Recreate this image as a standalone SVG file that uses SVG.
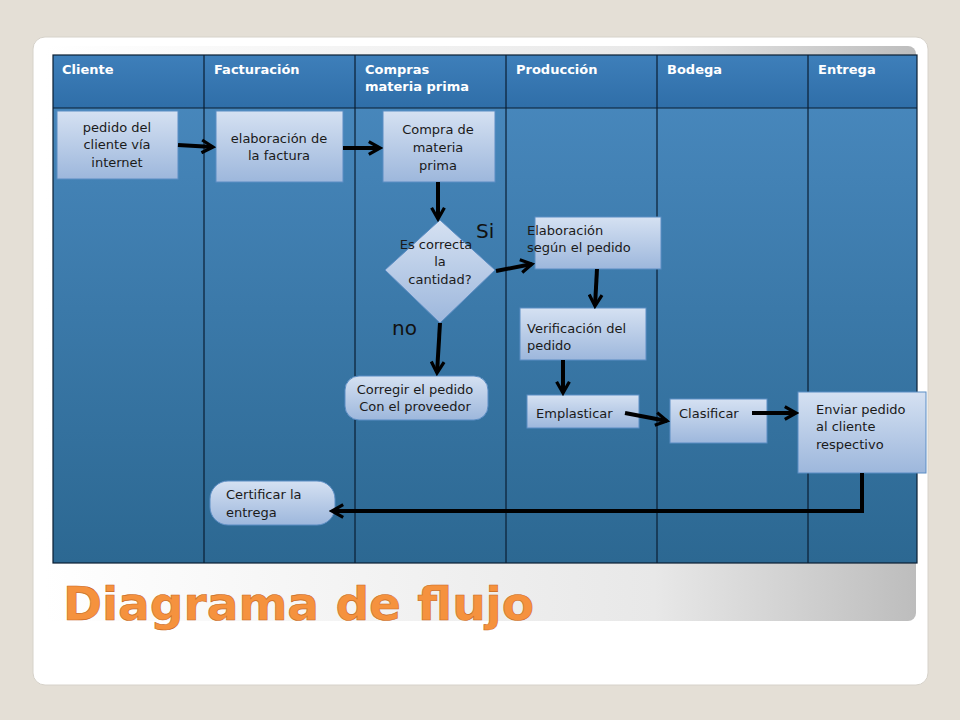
<svg xmlns="http://www.w3.org/2000/svg" width="960" height="720" viewBox="0 0 960 720">
<defs>
<linearGradient id="bg" x1="0" y1="0" x2="0" y2="1"><stop offset="0" stop-color="#4a8ac0"/><stop offset="1" stop-color="#2c6892"/></linearGradient>
<linearGradient id="hd" x1="0" y1="0" x2="0" y2="1"><stop offset="0" stop-color="#3e7fba"/><stop offset="1" stop-color="#2f6ea8"/></linearGradient>
<linearGradient id="nd" x1="0" y1="0" x2="0" y2="1"><stop offset="0" stop-color="#d5e1f2"/><stop offset="1" stop-color="#9db7dc"/></linearGradient>
<linearGradient id="band" x1="0" y1="0" x2="1" y2="0"><stop offset="0" stop-color="#ffffff"/><stop offset="0.7" stop-color="#e8e8e8"/><stop offset="1" stop-color="#bdbdbd"/></linearGradient>
<marker id="ah" viewBox="0 0 10 10" refX="8" refY="5" markerWidth="4" markerHeight="4" orient="auto"><path d="M1,1 L8,5 L1,9" fill="none" stroke="#000" stroke-width="2"/></marker>
<style>
.n{fill:url(#nd);stroke:#5b8dc4;stroke-width:1}
.t{font-family:"DejaVu Sans",sans-serif;font-size:13px;fill:#1a1a1a}
.h{font-family:"DejaVu Sans",sans-serif;font-size:13px;font-weight:bold;fill:#fff}
.c{fill:none;stroke:#000;stroke-width:4;marker-end:url(#ah)}
.lane{stroke:#0a1e33;stroke-width:1.2}
</style>
</defs>
<rect width="960" height="720" fill="#e4dfd6"/>
<rect x="33" y="37" width="895" height="648" rx="12" fill="#fff" stroke="#d6d2ca"/>
<rect x="44" y="46" width="872" height="575" rx="8" fill="url(#band)"/>
<rect x="53" y="55" width="864" height="508" fill="url(#bg)"/>
<rect x="53" y="55" width="864" height="53" fill="url(#hd)"/>
<g class="lane"><line x1="53" y1="108" x2="917" y2="108"/><line x1="204" y1="55" x2="204" y2="563"/><line x1="355" y1="55" x2="355" y2="563"/><line x1="506" y1="55" x2="506" y2="563"/><line x1="657" y1="55" x2="657" y2="563"/><line x1="808" y1="55" x2="808" y2="563"/><rect x="53" y="55" width="864" height="508" fill="none"/></g>
<g id="headers">
<text class="h" x="62" y="74">Cliente</text><text class="h" x="214" y="74">Facturación</text>
<text class="h" x="365" y="74">Compras</text><text class="h" x="365" y="91">materia prima</text>
<text class="h" x="516" y="74">Producción</text><text class="h" x="667" y="74">Bodega</text><text class="h" x="818" y="74">Entrega</text>
</g>
<g id="n1"><rect class="n" x="57" y="111" width="121" height="68"/><text class="t" text-anchor="middle" x="117" y="132">pedido del</text><text class="t" text-anchor="middle" x="117" y="149">cliente vía</text><text class="t" text-anchor="middle" x="117" y="167">internet</text></g>
<g id="n2"><rect class="n" x="216" y="111" width="127" height="71"/><text class="t" text-anchor="middle" x="279" y="143">elaboración de</text><text class="t" text-anchor="middle" x="279" y="160">la factura</text></g>
<g id="n3"><rect class="n" x="383" y="111" width="112" height="71"/><text class="t" text-anchor="middle" x="438" y="134">Compra de</text><text class="t" text-anchor="middle" x="438" y="152">materia</text><text class="t" text-anchor="middle" x="438" y="170">prima</text></g>
<g id="n4"><polygon class="n" points="440,220 495,270 440,323 385,270"/><text class="t" text-anchor="middle" x="436" y="249">Es correcta</text><text class="t" text-anchor="middle" x="440" y="266">la</text><text class="t" text-anchor="middle" x="440" y="284">cantidad?</text></g>
<g id="labels"><text x="476" y="238" font-family="DejaVu Sans,sans-serif" font-size="20" fill="#111">Si</text><text x="392" y="335" font-family="DejaVu Sans,sans-serif" font-size="20" fill="#111">no</text></g>
<g id="n5"><rect class="n" x="535" y="217" width="126" height="52"/><text class="t" x="527" y="235">Elaboración</text><text class="t" x="527" y="252">según el pedido</text></g>
<g id="n6"><rect class="n" x="520" y="308" width="126" height="52"/><text class="t" x="527" y="333">Verificación del</text><text class="t" x="527" y="350">pedido</text></g>
<g id="n7"><rect class="n" x="527" y="395" width="112" height="33"/><text class="t" x="536" y="418">Emplasticar</text></g>
<g id="n8"><rect class="n" x="670" y="399" width="97" height="44"/><text class="t" x="679" y="418">Clasificar</text></g>
<g id="n9"><rect class="n" x="798" y="392" width="128" height="81"/><text class="t" x="816" y="414">Enviar pedido</text><text class="t" x="816" y="431">al cliente</text><text class="t" x="816" y="449">respectivo</text></g>
<g id="n10"><rect class="n" x="345" y="376" width="143" height="44" rx="14"/><text class="t" x="415" y="394" text-anchor="middle">Corregir el pedido</text><text class="t" x="415" y="411" text-anchor="middle">Con el proveedor</text></g>
<g id="n11"><rect class="n" x="210" y="481" width="125" height="44" rx="18"/><text class="t" x="226" y="499">Certificar la</text><text class="t" x="226" y="517">entrega</text></g>
<g id="connectors">
<path class="c" d="M178,145 L213,147"/><path class="c" d="M343,148 L380,148"/>
<path class="c" d="M438,182 L438,219"/><path class="c" d="M496,271 L532,264"/>
<path class="c" d="M440,323 L437,373"/><path class="c" d="M597,269 L595,306"/>
<path class="c" d="M563,360 L563,393"/><path class="c" d="M625,413 L667,421"/>
<path class="c" d="M752,413 L796,413"/><path class="c" d="M862,473 L862,511 L332,511"/>
</g>
<text x="63" y="620" font-family="DejaVu Sans,sans-serif" font-weight="bold" font-size="47" fill="#f5923e" stroke="#c96a1e" stroke-width="0.6">Diagrama de flujo</text>
</svg>
